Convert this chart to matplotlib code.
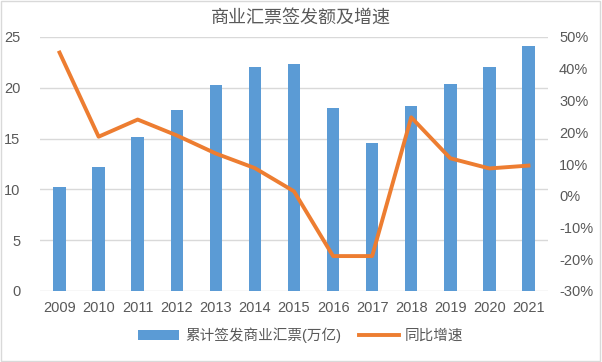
import matplotlib
matplotlib.use("Agg")
import matplotlib.pyplot as plt
from matplotlib.patches import Rectangle

plt.rcParams['font.family'] = ['Liberation Sans', 'Noto Sans CJK SC', 'DejaVu Sans']

years = ['2009', '2010', '2011', '2012', '2013', '2014', '2015', '2016', '2017', '2018', '2019', '2020', '2021']
amount = [10.2, 12.2, 15.15, 17.8, 20.3, 22.05, 22.35, 18.05, 14.55, 18.25, 20.4, 22.05, 24.15]
growth = [45.1, 18.6, 24.0, 19.0, 13.3, 8.7, 1.4, -19.0, -19.0, 24.7, 11.8, 8.6, 9.5]

title = '商业汇票签发额及增速'
bar_label = '累计签发商业汇票(万亿)'
line_label = '同比增速'

fig = plt.figure(figsize=(6.02, 3.62), dpi=100)
fig.patches.append(Rectangle((0.002, 0.003), 0.995, 0.994, transform=fig.transFigure,
                             fill=False, edgecolor='#D9D9D9', linewidth=1))
ax = fig.add_axes([40/602, 1-291/362, 508/602, 254/362])
ax2 = ax.twinx()

x = list(range(len(years)))
ax.bar(x, amount, width=0.32, color='#5B9BD5', label=bar_label, zorder=2)
ax2.plot(x, growth, color='#ED7D31', linewidth=2.8, label=line_label, zorder=3)

ax.set_xlim(-0.5, len(years)-0.5)
ax.set_ylim(0, 25)
ax.set_yticks([0, 5, 10, 15, 20, 25])
ax2.set_ylim(-30, 50)
ax2.set_yticks(list(range(-30, 51, 10)))
ax2.set_yticklabels([f'{v}%' for v in range(-30, 51, 10)])
ax.set_xticks(x)
ax.set_xticklabels(years)

ax.grid(axis='y', color='#D9D9D9', linewidth=1, zorder=0)
ax.set_axisbelow(True)
for a in (ax, ax2):
    for s in ['top', 'left', 'right']:
        a.spines[s].set_visible(False)
    a.spines['bottom'].set_visible(False)
    a.tick_params(length=0, labelsize=10.5, labelcolor='#595959')
ax.tick_params(axis='y', pad=14)
ax2.tick_params(axis='y', pad=8)
ax.tick_params(axis='x', pad=7)
ax.set_zorder(ax2.get_zorder() - 1)
ax.patch.set_visible(False)

fig.text(0.5, 1-18/362, title, ha='center', va='center', fontsize=13, color='#595959')

h1, l1 = ax.get_legend_handles_labels()
h2, l2 = ax2.get_legend_handles_labels()
fig.legend(h1 + h2, l1 + l2, loc='center', bbox_to_anchor=(0.5, 1-335/362), ncol=2,
           frameon=False, fontsize=10.5, labelcolor='#595959', handlelength=2.8,
           columnspacing=1.2, handletextpad=0.4)

fig.savefig('out.png', dpi=100)
